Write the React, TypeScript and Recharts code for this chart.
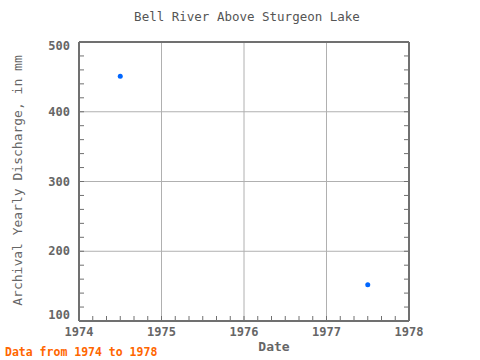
import React from 'react'
import {
  ScatterChart,
  Scatter,
  XAxis,
  YAxis,
  CartesianGrid,
} from 'recharts'

// yearly values
const years = [1974.5, 1977.5]
const discharge = [451, 152]

const xTicks = [1974, 1975, 1976, 1977, 1978]
const yTicks = [100, 200, 300, 400, 500]

const xMinor = Array.from({ length: 25 }, (_, i) => 1974 + i / 6)
const yMinor = Array.from({ length: 21 }, (_, i) => 100 + i * 20)

const data = years.map((x, i) => ({ x, y: discharge[i] }))

const FONT = '"DejaVu Sans Mono", "Liberation Mono", monospace'
const FRAME = '#707070'
const TEXT = '#666666'
const TICK = 5

const isMajor = (v: number, list: number[]) =>
  list.some(t => Math.abs(t - v) < 1e-6)

// bottom: inward tick, label below for whole years
const BottomTick = (props: any) => {
  const { x, y, payload } = props
  return (
    <g>
      <line x1={x} x2={x} y1={y} y2={y - TICK} stroke={FRAME} />
      {isMajor(payload.value, xTicks) && (
        <text
          x={x}
          y={y + 15}
          textAnchor="middle"
          fill={TEXT}
          fontFamily={FONT}
          fontSize={12}
          fontWeight="bold"
        >
          {Math.round(payload.value)}
        </text>
      )}
    </g>
  )
}

const TopTick = (props: any) => {
  const { x, y } = props
  return <line x1={x} x2={x} y1={y} y2={y + TICK} stroke={FRAME} />
}

const LeftTick = (props: any) => {
  const { x, y, payload } = props
  const v = Math.round(payload.value)
  // end labels sit slightly inside the frame, like the reference
  let dy = 4
  if (v === 500) dy = 8
  if (v === 100) dy = -2
  return (
    <g>
      <line x1={x} x2={x + TICK} y1={y} y2={y} stroke={FRAME} />
      {isMajor(v, yTicks) && (
        <text
          x={x - 9}
          y={y + dy}
          textAnchor="end"
          fill={TEXT}
          fontFamily={FONT}
          fontSize={12}
          fontWeight="bold"
        >
          {v}
        </text>
      )}
    </g>
  )
}

const RightTick = (props: any) => {
  const { x, y } = props
  return <line x1={x} x2={x - TICK} y1={y} y2={y} stroke={FRAME} />
}

const Dot = (props: any) => {
  const { cx, cy } = props
  return <circle cx={cx} cy={cy} r={2.5} fill="#0066ff" />
}

export default function App() {
  return (
    <div style={{ position: 'absolute', left: 0, top: 0, width: 480, height: 360, background: '#fff' }}>
      <ScatterChart
        width={480}
        height={360}
        margin={{ top: 0, right: 0, bottom: 0, left: 0 }}
      >
        <CartesianGrid
          xAxisId="x"
          yAxisId="y"
          verticalValues={xTicks}
          horizontalValues={yTicks}
          stroke="#b0b0b0"
          strokeWidth={1}
        />
        <XAxis
          xAxisId="x"
          dataKey="x"
          type="number"
          domain={[1974, 1978]}
          ticks={xMinor}
          interval={0}
          height={39}
          tickSize={0}
          tickMargin={0}
          tickLine={false}
          axisLine={{ stroke: FRAME, strokeWidth: 2 }}
          tick={<BottomTick />}
          allowDataOverflow
        />
        <XAxis
          xAxisId="xt"
          orientation="top"
          type="number"
          domain={[1974, 1978]}
          ticks={xMinor}
          interval={0}
          height={42}
          tickSize={0}
          tickMargin={0}
          tickLine={false}
          axisLine={{ stroke: FRAME, strokeWidth: 2 }}
          tick={<TopTick />}
          allowDataOverflow
        />
        <YAxis
          yAxisId="y"
          dataKey="y"
          type="number"
          domain={[100, 500]}
          ticks={yMinor}
          interval={0}
          width={79}
          tickSize={0}
          tickMargin={0}
          tickLine={false}
          axisLine={{ stroke: FRAME, strokeWidth: 2 }}
          tick={<LeftTick />}
          allowDataOverflow
        />
        <YAxis
          yAxisId="yr"
          orientation="right"
          type="number"
          domain={[100, 500]}
          ticks={yMinor}
          interval={0}
          width={71}
          tickSize={0}
          tickMargin={0}
          tickLine={false}
          axisLine={{ stroke: FRAME, strokeWidth: 2 }}
          tick={<RightTick />}
          allowDataOverflow
        />
        <Scatter
          xAxisId="x"
          yAxisId="y"
          data={data}
          shape={<Dot />}
          isAnimationActive={false}
        />
      </ScatterChart>
      <div
        style={{
          position: 'absolute',
          top: 9,
          left: 0,
          width: 494,
          textAlign: 'center',
          fontFamily: FONT,
          fontSize: 12.5,
          color: '#555',
        }}
      >
        Bell River Above Sturgeon Lake
      </div>
      <div
        style={{
          position: 'absolute',
          top: 339,
          left: 244,
          width: 60,
          textAlign: 'center',
          fontFamily: FONT,
          fontSize: 13,
          fontWeight: 'bold',
          color: TEXT,
        }}
      >
        Date
      </div>
      <div
        style={{
          position: 'absolute',
          left: 17,
          top: 182,
          width: 300,
          marginLeft: -150,
          marginTop: -9,
          textAlign: 'center',
          transform: 'rotate(-90deg)',
          fontFamily: FONT,
          fontSize: 13,
          color: TEXT,
          whiteSpace: 'nowrap',
        }}
      >
        Archival Yearly Discharge, in mm
      </div>
      <div
        style={{
          position: 'absolute',
          left: 5,
          top: 345,
          fontFamily: FONT,
          fontSize: 11.5,
          fontWeight: 'bold',
          color: '#ff6600',
          whiteSpace: 'nowrap',
        }}
      >
        Data from 1974 to 1978
      </div>
    </div>
  )
}
